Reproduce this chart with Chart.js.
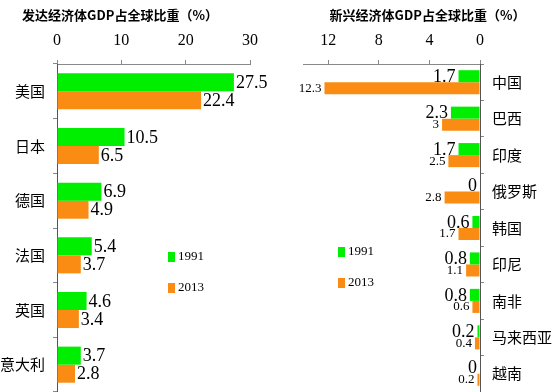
<!DOCTYPE html>
<html><head><meta charset="utf-8">
<script src="https://cdn.jsdelivr.net/npm/chart.js@4.4.0/dist/chart.umd.min.js"></script>
<style>
html,body{margin:0;padding:0;background:#fff;width:552px;height:392px;overflow:hidden;position:relative;}
#c1{position:absolute;left:-10px;top:0;}
#c2{position:absolute;left:294px;top:0;}
</style></head><body>
<canvas id="c1" width="280" height="392"></canvas>
<canvas id="c2" width="258" height="392"></canvas>
<script>
// ---- data ----
const devCategories = ['美国','日本','德国','法国','英国','意大利'];
const dev1991 = [27.5, 10.5, 6.9, 5.4, 4.6, 3.7];
const dev2013 = [22.4, 6.5, 4.9, 3.7, 3.4, 2.8];
const devTicks = [0, 10, 20, 30];

const emgCategories = ['中国','巴西','印度','俄罗斯','韩国','印尼','南非','马来西亚','越南'];
const emg1991 = [1.7, 2.3, 1.7, 0, 0.6, 0.8, 0.8, 0.2, 0];
const emg2013 = [12.3, 3, 2.5, 2.8, 1.7, 1.1, 0.6, 0.4, 0.2];
const emgTicks = [0, 4, 8, 12];

const seriesLabels = ['1991', '2013'];
const titles = ['发达经济体GDP占全球比重（%）', '新兴经济体GDP占全球比重（%）'];

// ---- styles ----
const GREEN = '#00ee00';
const ORANGE = '#fa8c14';
const CJK = '"Noto Sans CJK SC", "Noto Sans", sans-serif';
const SERIF = '"Liberation Serif", "DejaVu Serif", serif';

const valueLabels = {
  id: 'valueLabels',
  afterDatasetsDraw(chart, args, opts) {
    const ctx = chart.ctx;
    ctx.save();
    chart.data.datasets.forEach((ds, i) => {
      const meta = chart.getDatasetMeta(i);
      ctx.font = opts.fonts[i];
      ctx.fillStyle = '#000';
      ctx.textBaseline = 'middle';
      ctx.textAlign = opts.align;
      meta.data.forEach((el, j) => {
        ctx.fillText(String(ds.data[j]), el.x + opts.dx, el.y + (opts.dy ? opts.dy[i] : 0));
      });
    });
    ctx.restore();
  }
};

const boxLegend = {
  id: 'boxLegend',
  afterDraw(chart, args, opts) {
    const ctx = chart.ctx;
    ctx.save();
    chart.data.datasets.forEach((ds, i) => {
      const y = opts.y + i * opts.gap;
      ctx.fillStyle = ds.backgroundColor;
      ctx.fillRect(opts.x, y - 5, 7, 10);
      ctx.fillStyle = '#000';
      ctx.font = opts.font;
      ctx.textBaseline = 'middle';
      ctx.textAlign = 'left';
      ctx.fillText(ds.label, opts.x + 10, y);
    });
    ctx.restore();
  }
};

function makeChart(id, cats, d1, d2, ticks, maxV, title, reverse, side) {
  const isRight = side === 'right';
  return new Chart(document.getElementById(id), {
    type: 'bar',
    data: {
      labels: cats,
      datasets: [
        { label: seriesLabels[0], data: d1, backgroundColor: GREEN, categoryPercentage: 0.66, barPercentage: 1 },
        { label: seriesLabels[1], data: d2, backgroundColor: ORANGE, categoryPercentage: 0.66, barPercentage: 1 }
      ]
    },
    options: {
      indexAxis: 'y',
      responsive: false,
      animation: false,
      devicePixelRatio: 1,
      layout: { padding: isRight ? { left: 9, right: 0, top: 0, bottom: 0 } : { left: 0, right: 20, top: 0, bottom: 0 } },
      plugins: {
        legend: { display: false },
        tooltip: { enabled: false },
        title: {
          display: true, text: title, color: '#000',
          font: { family: CJK, size: 13, weight: 'bold' },
          padding: { top: 7, bottom: 5.8 }
        },
        valueLabels: isRight
          ? { align: 'right', dx: -3, dy: [1, 0], fonts: ['18px ' + SERIF, '13px ' + SERIF] }
          : { align: 'left', dx: 2, dy: [1, 1], fonts: ['18px ' + SERIF, '18px ' + SERIF] },
        boxLegend: isRight
          ? { x: 44, y: 252, gap: 31, font: '13px ' + SERIF }
          : { x: 178, y: 257, gap: 31, font: '13px ' + SERIF }
      },
      scales: {
        x: {
          position: 'top',
          min: 0, max: maxV, reverse: reverse,
          afterBuildTicks: s => { s.ticks = ticks.map(v => ({ value: v })); },
          ticks: { font: { family: SERIF, size: 16 }, color: '#000', padding: 10 },
          grid: { drawOnChartArea: false, tickLength: 4, color: '#888' },
          border: { color: '#888' },
          afterFit: s => { s.height = 35.6; }
        },
        y: {
          position: isRight ? 'right' : 'left',
          ticks: { font: { family: CJK, size: 15 }, color: '#000', padding: 8 },
          grid: { drawOnChartArea: false, tickLength: 4, color: '#888' },
          border: { color: '#555' },
          afterFit: s => { s.width = isRight ? 72 : 67; s.paddingTop = 0; s.paddingBottom = 0; }
        }
      }
    },
    plugins: [valueLabels, boxLegend]
  });
}

makeChart('c1', devCategories, dev1991, dev2013, devTicks, 30, titles[0], false, 'left');
makeChart('c2', emgCategories, emg1991, emg2013, emgTicks, 14, titles[1], true, 'right');
</script>
</body></html>
